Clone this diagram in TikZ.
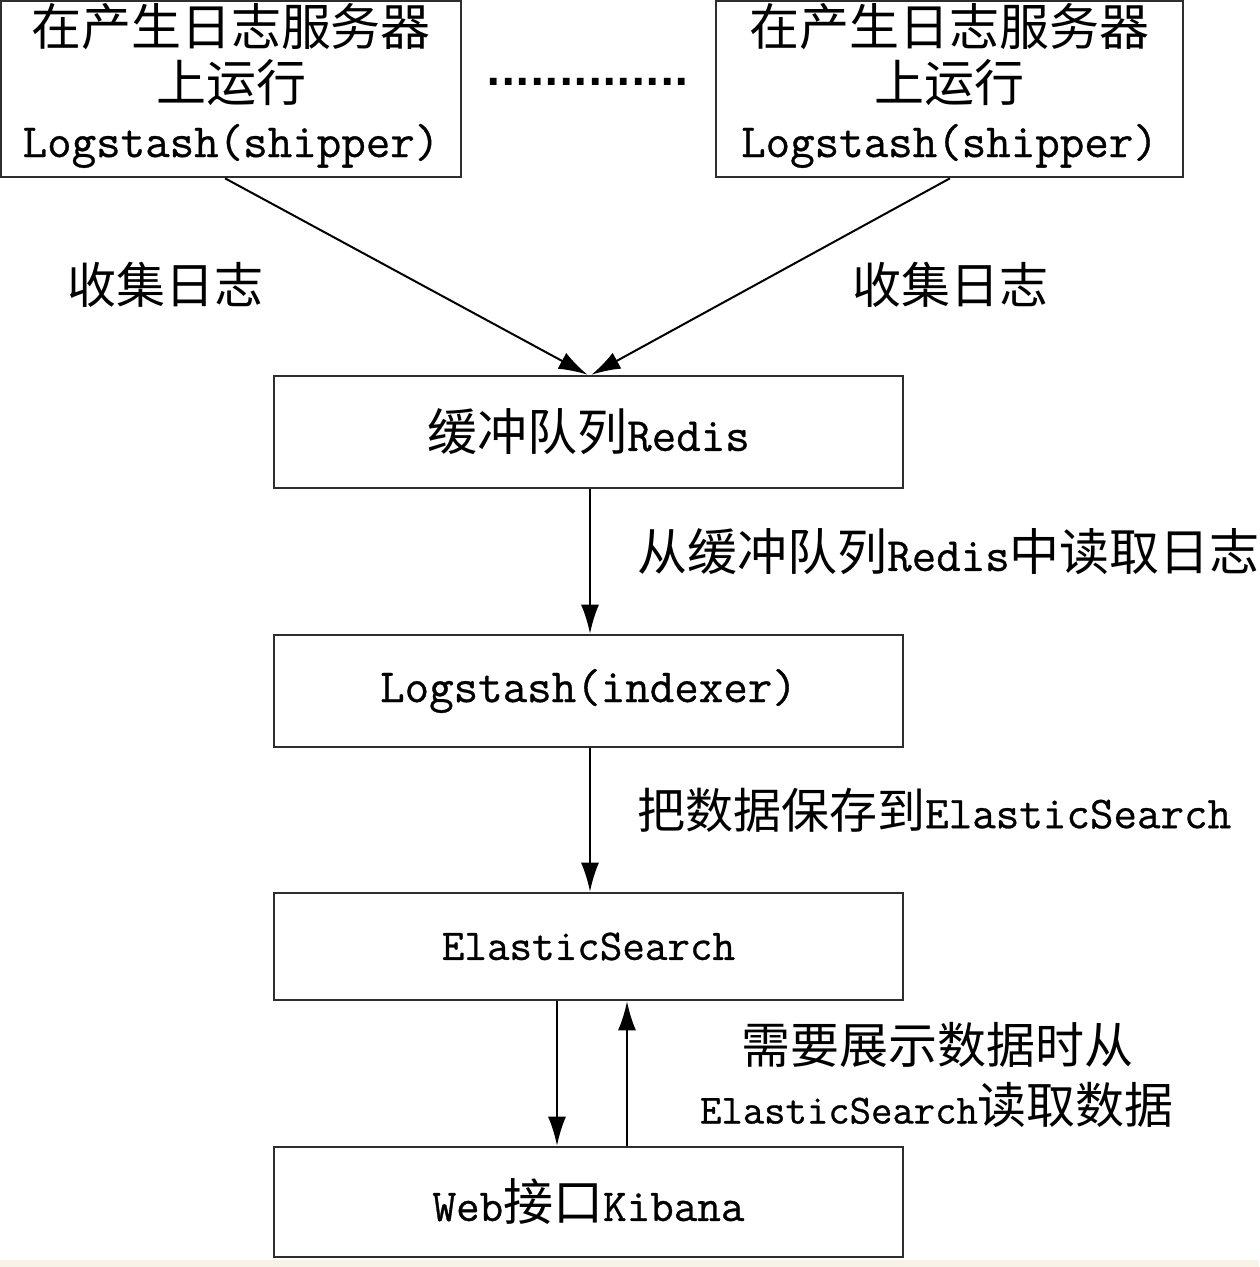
\documentclass[tikz,border=0pt]{standalone}
\usepackage{fontspec}
\setmainfont{Noto Sans CJK SC}
\setmonofont{Latin Modern Mono}[FakeBold=0.7]
\newfontfamily\dotfont{DejaVu Sans}
\usetikzlibrary{arrows.meta,calc}
\newcommand{\lat}[2][47.6]{{\ttfamily\fontsize{#1}{56}\selectfont #2}}
\definecolor{strip}{HTML}{F7F3E7}
\definecolor{edge}{HTML}{2E2E2E}
\tikzset{
  box/.style={draw=edge,line width=2.6pt,inner sep=0pt,minimum width=629pt,minimum height=112pt,font=\fontsize{50}{56}\selectfont},
  topbox/.style={box,minimum height=176pt,align=center},
  lbl/.style={inner sep=0pt,font=\fontsize{49}{60}\selectfont},
  arr/.style={draw=black,line width=2pt,-{Latex[length=29pt,width=18pt]}}
}
\begin{document}
\begin{tikzpicture}[x=1pt,y=-1pt]
\useasboundingbox (0,0) rectangle (1259,1267);
\fill[white] (0,0) rectangle (1259,1260);
\fill[strip] (0,1260) rectangle (1259,1267);
% top boxes
\node[topbox,minimum width=460pt] (tl) at (231,89) {在产生日志服务器\\上运行\\\lat{Logstash(shipper)}\rule[-18pt]{0pt}{18pt}};
\node[topbox,minimum width=467pt] (tr) at (949.5,89) {在产生日志服务器\\上运行\\\lat{Logstash(shipper)}\rule[-18pt]{0pt}{18pt}};
\node[inner sep=0pt] (dots) at (588,82) {\dotfont\bfseries\fontsize{38}{40}\selectfont ..............};
% main boxes
\node[box] (redis) at (588.5,432) {缓冲队列\lat{Redis}};
\node[box] (idx) at (588.5,691) {\lat{Logstash(indexer)}};
\node[box,minimum height=107pt] (es) at (588.5,946.5) {\lat[43.8]{ElasticSearch}};
\node[box,minimum height=110pt] (kib) at (588.5,1202) {\lat[45.7]{Web}接口\lat[45.7]{Kibana}};
% labels
\node[lbl] (c1) at (165,285) {收集日志};
\node[lbl] (c2) at (950,285) {收集日志};
\node[lbl,anchor=west,font=\fontsize{50}{60}\selectfont] (r1) at (637,552) {从缓冲队列\lat{Redis}中读取日志};
\node[lbl,anchor=west,font=\fontsize{48}{60}\selectfont] (r2) at (637,810) {把数据保存到\lat[45.7]{ElasticSearch}};
\node[lbl] (r3) at (937,1045) {需要展示数据时从};
\node[lbl] (r4) at (937,1105) {\lat[41.5]{ElasticSearch}读取数据};
% connectors
\draw[arr] ([xshift=-6pt]tl.south) -- ([xshift=-1pt]redis.north);
\draw[arr] ([xshift=0.5pt]tr.south) -- ([xshift=3pt]redis.north);
\draw[arr] ([xshift=1.5pt]redis.south) -- ([xshift=1.5pt]idx.north);
\draw[arr] ([xshift=1.5pt]idx.south) -- ([xshift=1.5pt]es.north);
\draw[arr] ([xshift=-31.5pt]es.south) -- ([xshift=-31.5pt]kib.north);
\draw[arr] ([xshift=38.5pt]kib.north) -- ([xshift=38.5pt]es.south);
\end{tikzpicture}
\end{document}
